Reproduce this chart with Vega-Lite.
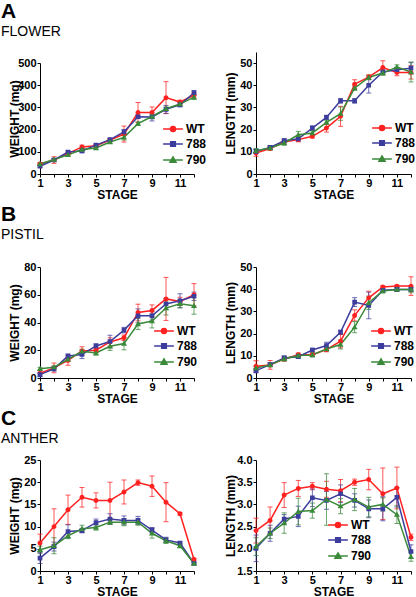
{
"$schema": "https://vega.github.io/schema/vega-lite/v6.json",
"background": "white",
"padding": {"left": 1, "top": 1, "right": 0, "bottom": 0},
"data": {"values": [
{"panel":"AW","series":"WT","stage":1,"value":45,"err":6},{"panel":"AW","series":"WT","stage":2,"value":63,"err":15},{"panel":"AW","series":"WT","stage":3,"value":92,"err":6},{"panel":"AW","series":"WT","stage":4,"value":122,"err":8},{"panel":"AW","series":"WT","stage":5,"value":127,"err":5},{"panel":"AW","series":"WT","stage":6,"value":153,"err":5},{"panel":"AW","series":"WT","stage":7,"value":180,"err":36},{"panel":"AW","series":"WT","stage":8,"value":277,"err":45},{"panel":"AW","series":"WT","stage":9,"value":277,"err":25},{"panel":"AW","series":"WT","stage":10,"value":344,"err":72},{"panel":"AW","series":"WT","stage":11,"value":324,"err":8},{"panel":"AW","series":"WT","stage":12,"value":356,"err":10},
{"panel":"AW","series":"788","stage":1,"value":35,"err":5},{"panel":"AW","series":"788","stage":2,"value":63,"err":6},{"panel":"AW","series":"788","stage":3,"value":99,"err":6},{"panel":"AW","series":"788","stage":4,"value":104,"err":8},{"panel":"AW","series":"788","stage":5,"value":130,"err":5},{"panel":"AW","series":"788","stage":6,"value":155,"err":5},{"panel":"AW","series":"788","stage":7,"value":190,"err":10},{"panel":"AW","series":"788","stage":8,"value":258,"err":8},{"panel":"AW","series":"788","stage":9,"value":257,"err":18},{"panel":"AW","series":"788","stage":10,"value":291,"err":18},{"panel":"AW","series":"788","stage":11,"value":312,"err":10},{"panel":"AW","series":"788","stage":12,"value":366,"err":10},
{"panel":"AW","series":"790","stage":1,"value":45,"err":5},{"panel":"AW","series":"790","stage":2,"value":65,"err":5},{"panel":"AW","series":"790","stage":3,"value":86,"err":5},{"panel":"AW","series":"790","stage":4,"value":110,"err":5},{"panel":"AW","series":"790","stage":5,"value":117,"err":5},{"panel":"AW","series":"790","stage":6,"value":144,"err":5},{"panel":"AW","series":"790","stage":7,"value":165,"err":12},{"panel":"AW","series":"790","stage":8,"value":227,"err":8},{"panel":"AW","series":"790","stage":9,"value":259,"err":8},{"panel":"AW","series":"790","stage":10,"value":294,"err":8},{"panel":"AW","series":"790","stage":11,"value":315,"err":10},{"panel":"AW","series":"790","stage":12,"value":346,"err":10},
{"panel":"AL","series":"WT","stage":1,"value":9.5,"err":1.5},{"panel":"AL","series":"WT","stage":2,"value":11.5,"err":0.8},{"panel":"AL","series":"WT","stage":3,"value":14.4,"err":1},{"panel":"AL","series":"WT","stage":4,"value":15.5,"err":1},{"panel":"AL","series":"WT","stage":5,"value":17,"err":0.8},{"panel":"AL","series":"WT","stage":6,"value":20.7,"err":1.8},{"panel":"AL","series":"WT","stage":7,"value":26,"err":4.5},{"panel":"AL","series":"WT","stage":8,"value":40.5,"err":2},{"panel":"AL","series":"WT","stage":9,"value":43.7,"err":1},{"panel":"AL","series":"WT","stage":10,"value":48,"err":3},{"panel":"AL","series":"WT","stage":11,"value":45.8,"err":1.5},{"panel":"AL","series":"WT","stage":12,"value":45.8,"err":3},
{"panel":"AL","series":"788","stage":1,"value":10.2,"err":1},{"panel":"AL","series":"788","stage":2,"value":12,"err":0.8},{"panel":"AL","series":"788","stage":3,"value":15,"err":1},{"panel":"AL","series":"788","stage":4,"value":15.9,"err":1.2},{"panel":"AL","series":"788","stage":5,"value":20.7,"err":1},{"panel":"AL","series":"788","stage":6,"value":25.5,"err":1},{"panel":"AL","series":"788","stage":7,"value":33,"err":1},{"panel":"AL","series":"788","stage":8,"value":33,"err":1},{"panel":"AL","series":"788","stage":9,"value":40,"err":3.5},{"panel":"AL","series":"788","stage":10,"value":46,"err":1},{"panel":"AL","series":"788","stage":11,"value":47,"err":1},{"panel":"AL","series":"788","stage":12,"value":47.7,"err":2.5},
{"panel":"AL","series":"790","stage":1,"value":10.5,"err":1},{"panel":"AL","series":"790","stage":2,"value":11.7,"err":0.8},{"panel":"AL","series":"790","stage":3,"value":14,"err":1},{"panel":"AL","series":"790","stage":4,"value":17.7,"err":1.5},{"panel":"AL","series":"790","stage":5,"value":18.5,"err":1},{"panel":"AL","series":"790","stage":6,"value":23.3,"err":1},{"panel":"AL","series":"790","stage":7,"value":27.2,"err":3},{"panel":"AL","series":"790","stage":8,"value":38.7,"err":1},{"panel":"AL","series":"790","stage":9,"value":43.5,"err":1},{"panel":"AL","series":"790","stage":10,"value":45.5,"err":1},{"panel":"AL","series":"790","stage":11,"value":48.2,"err":1},{"panel":"AL","series":"790","stage":12,"value":46,"err":4.5},
{"panel":"BW","series":"WT","stage":1,"value":3.4,"err":2},{"panel":"BW","series":"WT","stage":2,"value":7.3,"err":3.5},{"panel":"BW","series":"WT","stage":3,"value":12.7,"err":3.5},{"panel":"BW","series":"WT","stage":4,"value":19.5,"err":3},{"panel":"BW","series":"WT","stage":5,"value":20,"err":1.5},{"panel":"BW","series":"WT","stage":6,"value":26,"err":3},{"panel":"BW","series":"WT","stage":7,"value":29,"err":2},{"panel":"BW","series":"WT","stage":8,"value":47.2,"err":6},{"panel":"BW","series":"WT","stage":9,"value":48.7,"err":4},{"panel":"BW","series":"WT","stage":10,"value":57,"err":15.5},{"panel":"BW","series":"WT","stage":11,"value":55.2,"err":3},{"panel":"BW","series":"WT","stage":12,"value":60,"err":8},
{"panel":"BW","series":"788","stage":1,"value":2.4,"err":1.5},{"panel":"BW","series":"788","stage":2,"value":6.6,"err":1.5},{"panel":"BW","series":"788","stage":3,"value":15.8,"err":1.5},{"panel":"BW","series":"788","stage":4,"value":17,"err":3},{"panel":"BW","series":"788","stage":5,"value":23.1,"err":1.5},{"panel":"BW","series":"788","stage":6,"value":26.3,"err":4.5},{"panel":"BW","series":"788","stage":7,"value":34.5,"err":2},{"panel":"BW","series":"788","stage":8,"value":44.8,"err":5},{"panel":"BW","series":"788","stage":9,"value":44.8,"err":3},{"panel":"BW","series":"788","stage":10,"value":53.3,"err":4},{"panel":"BW","series":"788","stage":11,"value":55.7,"err":5},{"panel":"BW","series":"788","stage":12,"value":58.9,"err":3},
{"panel":"BW","series":"790","stage":1,"value":6.6,"err":1},{"panel":"BW","series":"790","stage":2,"value":7.8,"err":1},{"panel":"BW","series":"790","stage":3,"value":13.4,"err":1.5},{"panel":"BW","series":"790","stage":4,"value":19.2,"err":1.5},{"panel":"BW","series":"790","stage":5,"value":18,"err":1.5},{"panel":"BW","series":"790","stage":6,"value":22.9,"err":3},{"panel":"BW","series":"790","stage":7,"value":24.8,"err":4.5},{"panel":"BW","series":"790","stage":8,"value":38.9,"err":4},{"panel":"BW","series":"790","stage":9,"value":41.1,"err":5},{"panel":"BW","series":"790","stage":10,"value":50.4,"err":5},{"panel":"BW","series":"790","stage":11,"value":53.5,"err":3},{"panel":"BW","series":"790","stage":12,"value":52,"err":6},
{"panel":"BL","series":"WT","stage":1,"value":5.3,"err":2.5},{"panel":"BL","series":"WT","stage":2,"value":5.9,"err":2},{"panel":"BL","series":"WT","stage":3,"value":8.6,"err":1},{"panel":"BL","series":"WT","stage":4,"value":10.5,"err":0.8},{"panel":"BL","series":"WT","stage":5,"value":10.5,"err":0.8},{"panel":"BL","series":"WT","stage":6,"value":12.8,"err":1},{"panel":"BL","series":"WT","stage":7,"value":16.6,"err":3},{"panel":"BL","series":"WT","stage":8,"value":28.2,"err":2.5},{"panel":"BL","series":"WT","stage":9,"value":36.1,"err":3},{"panel":"BL","series":"WT","stage":10,"value":41,"err":0.5},{"panel":"BL","series":"WT","stage":11,"value":41.4,"err":0.5},{"panel":"BL","series":"WT","stage":12,"value":41.4,"err":4.2},
{"panel":"BL","series":"788","stage":1,"value":3.3,"err":1},{"panel":"BL","series":"788","stage":2,"value":6,"err":0.8},{"panel":"BL","series":"788","stage":3,"value":9,"err":1},{"panel":"BL","series":"788","stage":4,"value":9.6,"err":0.8},{"panel":"BL","series":"788","stage":5,"value":12.6,"err":0.8},{"panel":"BL","series":"788","stage":6,"value":14.6,"err":1.5},{"panel":"BL","series":"788","stage":7,"value":20.6,"err":1},{"panel":"BL","series":"788","stage":8,"value":34.2,"err":2},{"panel":"BL","series":"788","stage":9,"value":32.7,"err":6},{"panel":"BL","series":"788","stage":10,"value":39.5,"err":0.8},{"panel":"BL","series":"788","stage":11,"value":39.9,"err":0.8},{"panel":"BL","series":"788","stage":12,"value":39.9,"err":0.8},
{"panel":"BL","series":"790","stage":1,"value":4.5,"err":1},{"panel":"BL","series":"790","stage":2,"value":5.9,"err":1},{"panel":"BL","series":"790","stage":3,"value":8.6,"err":1},{"panel":"BL","series":"790","stage":4,"value":10.1,"err":0.8},{"panel":"BL","series":"790","stage":5,"value":10.4,"err":1},{"panel":"BL","series":"790","stage":6,"value":13.1,"err":1},{"panel":"BL","series":"790","stage":7,"value":15.1,"err":2},{"panel":"BL","series":"790","stage":8,"value":22.9,"err":2.5},{"panel":"BL","series":"790","stage":9,"value":33.9,"err":3},{"panel":"BL","series":"790","stage":10,"value":39.2,"err":0.8},{"panel":"BL","series":"790","stage":11,"value":39.9,"err":0.8},{"panel":"BL","series":"790","stage":12,"value":39.9,"err":1.5},
{"panel":"CW","series":"WT","stage":1,"value":6.3,"err":2},{"panel":"CW","series":"WT","stage":2,"value":10,"err":4},{"panel":"CW","series":"WT","stage":3,"value":13.8,"err":3.3},{"panel":"CW","series":"WT","stage":4,"value":16.6,"err":2.2},{"panel":"CW","series":"WT","stage":5,"value":15.9,"err":1.7},{"panel":"CW","series":"WT","stage":6,"value":15.9,"err":4.1},{"panel":"CW","series":"WT","stage":7,"value":17.8,"err":2.7},{"panel":"CW","series":"WT","stage":8,"value":19.9,"err":0.6},{"panel":"CW","series":"WT","stage":9,"value":19.1,"err":2.3},{"panel":"CW","series":"WT","stage":10,"value":15.5,"err":4.4},{"panel":"CW","series":"WT","stage":11,"value":12.9,"err":0.3},{"panel":"CW","series":"WT","stage":12,"value":2.6,"err":0.3},
{"panel":"CW","series":"788","stage":1,"value":2.9,"err":1.2},{"panel":"CW","series":"788","stage":2,"value":5.5,"err":1},{"panel":"CW","series":"788","stage":3,"value":8.9,"err":1.5},{"panel":"CW","series":"788","stage":4,"value":9.1,"err":0.5},{"panel":"CW","series":"788","stage":5,"value":10.9,"err":0.8},{"panel":"CW","series":"788","stage":6,"value":11.7,"err":1.2},{"panel":"CW","series":"788","stage":7,"value":11.4,"err":1},{"panel":"CW","series":"788","stage":8,"value":11.4,"err":0.9},{"panel":"CW","series":"788","stage":9,"value":9.2,"err":0.6},{"panel":"CW","series":"788","stage":10,"value":7,"err":0.6},{"panel":"CW","series":"788","stage":11,"value":6.3,"err":0.3},{"panel":"CW","series":"788","stage":12,"value":1.7,"err":0.2},
{"panel":"CW","series":"790","stage":1,"value":4.8,"err":0.8},{"panel":"CW","series":"790","stage":2,"value":5.7,"err":1.8},{"panel":"CW","series":"790","stage":3,"value":7.9,"err":0.6},{"panel":"CW","series":"790","stage":4,"value":9.5,"err":0.8},{"panel":"CW","series":"790","stage":5,"value":9.8,"err":0.6},{"panel":"CW","series":"790","stage":6,"value":11,"err":0.5},{"panel":"CW","series":"790","stage":7,"value":11,"err":0.8},{"panel":"CW","series":"790","stage":8,"value":11,"err":0.7},{"panel":"CW","series":"790","stage":9,"value":8.5,"err":1.1},{"panel":"CW","series":"790","stage":10,"value":6.8,"err":0.6},{"panel":"CW","series":"790","stage":11,"value":5.7,"err":0.5},{"panel":"CW","series":"790","stage":12,"value":1.7,"err":0.2},
{"panel":"CL","series":"WT","stage":1,"value":2.41,"err":0.28},{"panel":"CL","series":"WT","stage":2,"value":2.64,"err":0.3},{"panel":"CL","series":"WT","stage":3,"value":3.21,"err":0.28},{"panel":"CL","series":"WT","stage":4,"value":3.36,"err":0.18},{"panel":"CL","series":"WT","stage":5,"value":3.41,"err":0.08},{"panel":"CL","series":"WT","stage":6,"value":3.34,"err":0.18},{"panel":"CL","series":"WT","stage":7,"value":3.31,"err":0.25},{"panel":"CL","series":"WT","stage":8,"value":3.5,"err":0.07},{"panel":"CL","series":"WT","stage":9,"value":3.56,"err":0.23},{"panel":"CL","series":"WT","stage":10,"value":3.24,"err":0.58},{"panel":"CL","series":"WT","stage":11,"value":3.37,"err":0.47},{"panel":"CL","series":"WT","stage":12,"value":2.26,"err":0.07},
{"panel":"CL","series":"788","stage":1,"value":2.01,"err":0.3},{"panel":"CL","series":"788","stage":2,"value":2.35,"err":0.18},{"panel":"CL","series":"788","stage":3,"value":2.67,"err":0.1},{"panel":"CL","series":"788","stage":4,"value":2.73,"err":0.23},{"panel":"CL","series":"788","stage":5,"value":3.15,"err":0.2},{"panel":"CL","series":"788","stage":6,"value":3.09,"err":0.2},{"panel":"CL","series":"788","stage":7,"value":3.24,"err":0.2},{"panel":"CL","series":"788","stage":8,"value":3.09,"err":0.15},{"panel":"CL","series":"788","stage":9,"value":2.9,"err":0.2},{"panel":"CL","series":"788","stage":10,"value":2.9,"err":0.27},{"panel":"CL","series":"788","stage":11,"value":3.16,"err":0.22},{"panel":"CL","series":"788","stage":12,"value":1.94,"err":0.15},
{"panel":"CL","series":"790","stage":1,"value":2.05,"err":0.2},{"panel":"CL","series":"790","stage":2,"value":2.35,"err":0.12},{"panel":"CL","series":"790","stage":3,"value":2.58,"err":0.23},{"panel":"CL","series":"790","stage":4,"value":2.84,"err":0.3},{"panel":"CL","series":"790","stage":5,"value":2.86,"err":0.17},{"panel":"CL","series":"790","stage":6,"value":3.11,"err":0.58},{"panel":"CL","series":"790","stage":7,"value":2.96,"err":0.17},{"panel":"CL","series":"790","stage":8,"value":3.11,"err":0.25},{"panel":"CL","series":"790","stage":9,"value":2.94,"err":0.22},{"panel":"CL","series":"790","stage":10,"value":3,"err":0.15},{"panel":"CL","series":"790","stage":11,"value":2.77,"err":0.2},{"panel":"CL","series":"790","stage":12,"value":1.82,"err":0.1}
]},
"spacing": 4,
"resolve": {"scale": {"color": "independent", "stroke": "independent", "shape": "independent"}},
"vconcat": [
{
"title": {"text": "A", "subtitle": "FLOWER", "offset": 13},
"bounds": "flush",
"spacing": 62,
"resolve": {"scale": {"color": "independent", "stroke": "independent", "shape": "independent"}},
"hconcat": [
{
"width": 154, "height": 122,
"transform": [{"filter": "datum.panel === 'AW'"}],
"encoding": {
"x": {"field": "stage", "type": "quantitative", "scale": {"domain": [1, 12], "nice": false}, "axis": {"title": "STAGE", "values": [1,2,3,4,5,6,7,8,9,10,11,12], "labelExpr": "datum.value % 2 === 1 ? datum.label : ''"}},
"y": {"field": "value", "type": "quantitative", "scale": {"domain": [0, 500], "nice": false, "range": [122, 11]}, "axis": {"title": "WEIGHT (mg)", "values": [0,100,200,300,400,500]}}
},
"layer": [
{"mark": {"type": "errorbar", "ticks": {"size": 5}, "opacity": 0.75}, "encoding": {"yError": {"field": "err"},
"color": {"field": "series", "type": "nominal", "scale": {"domain": ["WT", "788", "790"], "range": ["#ff2020", "#3d3d9e", "#3a8a3a"]}, "legend": {"orient": "none", "legendX": 117, "legendY": 71, "title": null}}}},
{"mark": {"type": "line", "strokeWidth": 1.5}, "encoding": {
"stroke": {"field": "series", "type": "nominal", "scale": {"domain": ["WT", "788", "790"], "range": ["#ff2020", "#3d3d9e", "#3a8a3a"]}, "legend": {"orient": "none", "legendX": 117, "legendY": 71, "title": null}}}},
{"mark": {"type": "point", "filled": true, "opacity": 1, "size": 30}, "encoding": {
"color": {"field": "series", "type": "nominal", "scale": {"domain": ["WT", "788", "790"], "range": ["#ff2020", "#3d3d9e", "#3a8a3a"]}, "legend": {"orient": "none", "legendX": 117, "legendY": 71, "title": null}},
"shape": {"field": "series", "type": "nominal", "scale": {"domain": ["WT", "788", "790"], "range": ["M-3.6,0H3.6M0.9,0A0.9,0.9,0,1,1,-0.9,0A0.9,0.9,0,1,1,0.9,0Z", "M-3.6,0H3.6M-0.85,-0.85H0.85V0.85H-0.85Z", "M-3.6,0H3.6M0,-1.1L1.1,0.8H-1.1Z"]}, "legend": {"orient": "none", "legendX": 117, "legendY": 71, "title": null}}}}
]
},
{
"width": 155, "height": 122,
"transform": [{"filter": "datum.panel === 'AL'"}],
"encoding": {
"x": {"field": "stage", "type": "quantitative", "scale": {"domain": [1, 12], "nice": false}, "axis": {"title": "STAGE", "values": [1,2,3,4,5,6,7,8,9,10,11,12], "labelExpr": "datum.value % 2 === 1 ? datum.label : ''"}},
"y": {"field": "value", "type": "quantitative", "scale": {"domain": [0, 55], "nice": false}, "axis": {"title": "LENGTH (mm)", "values": [0,10,20,30,40,50]}}
},
"layer": [
{"mark": {"type": "errorbar", "ticks": {"size": 5}, "opacity": 0.75}, "encoding": {"yError": {"field": "err"},
"color": {"field": "series", "type": "nominal", "scale": {"domain": ["WT", "788", "790"], "range": ["#ff2020", "#3d3d9e", "#3a8a3a"]}, "legend": {"orient": "none", "legendX": 110, "legendY": 70, "title": null}}}},
{"mark": {"type": "line", "strokeWidth": 1.5}, "encoding": {
"stroke": {"field": "series", "type": "nominal", "scale": {"domain": ["WT", "788", "790"], "range": ["#ff2020", "#3d3d9e", "#3a8a3a"]}, "legend": {"orient": "none", "legendX": 110, "legendY": 70, "title": null}}}},
{"mark": {"type": "point", "filled": true, "opacity": 1, "size": 30}, "encoding": {
"color": {"field": "series", "type": "nominal", "scale": {"domain": ["WT", "788", "790"], "range": ["#ff2020", "#3d3d9e", "#3a8a3a"]}, "legend": {"orient": "none", "legendX": 110, "legendY": 70, "title": null}},
"shape": {"field": "series", "type": "nominal", "scale": {"domain": ["WT", "788", "790"], "range": ["M-3.6,0H3.6M0.9,0A0.9,0.9,0,1,1,-0.9,0A0.9,0.9,0,1,1,0.9,0Z", "M-3.6,0H3.6M-0.85,-0.85H0.85V0.85H-0.85Z", "M-3.6,0H3.6M0,-1.1L1.1,0.8H-1.1Z"]}, "legend": {"orient": "none", "legendX": 110, "legendY": 70, "title": null}}}}
]
}
]
},
{
"title": {"text": "B", "subtitle": "PISTIL", "offset": 19},
"bounds": "flush",
"spacing": 62,
"resolve": {"scale": {"color": "independent", "stroke": "independent", "shape": "independent"}},
"hconcat": [
{
"width": 154, "height": 111,
"transform": [{"filter": "datum.panel === 'BW'"}],
"encoding": {
"x": {"field": "stage", "type": "quantitative", "scale": {"domain": [1, 12], "nice": false}, "axis": {"title": "STAGE", "values": [1,2,3,4,5,6,7,8,9,10,11,12], "labelExpr": "datum.value % 2 === 1 ? datum.label : ''"}},
"y": {"field": "value", "type": "quantitative", "scale": {"domain": [0, 80], "nice": false}, "axis": {"title": "WEIGHT (mg)", "values": [0,20,40,60,80]}}
},
"layer": [
{"mark": {"type": "errorbar", "ticks": {"size": 5}, "opacity": 0.75}, "encoding": {"yError": {"field": "err"},
"color": {"field": "series", "type": "nominal", "scale": {"domain": ["WT", "788", "790"], "range": ["#ff2020", "#3d3d9e", "#3a8a3a"]}, "legend": {"orient": "none", "legendX": 108, "legendY": 58, "title": null}}}},
{"mark": {"type": "line", "strokeWidth": 1.5}, "encoding": {
"stroke": {"field": "series", "type": "nominal", "scale": {"domain": ["WT", "788", "790"], "range": ["#ff2020", "#3d3d9e", "#3a8a3a"]}, "legend": {"orient": "none", "legendX": 108, "legendY": 58, "title": null}}}},
{"mark": {"type": "point", "filled": true, "opacity": 1, "size": 30}, "encoding": {
"color": {"field": "series", "type": "nominal", "scale": {"domain": ["WT", "788", "790"], "range": ["#ff2020", "#3d3d9e", "#3a8a3a"]}, "legend": {"orient": "none", "legendX": 108, "legendY": 58, "title": null}},
"shape": {"field": "series", "type": "nominal", "scale": {"domain": ["WT", "788", "790"], "range": ["M-3.6,0H3.6M0.9,0A0.9,0.9,0,1,1,-0.9,0A0.9,0.9,0,1,1,0.9,0Z", "M-3.6,0H3.6M-0.85,-0.85H0.85V0.85H-0.85Z", "M-3.6,0H3.6M0,-1.1L1.1,0.8H-1.1Z"]}, "legend": {"orient": "none", "legendX": 108, "legendY": 58, "title": null}}}}
]
},
{
"width": 155, "height": 111,
"transform": [{"filter": "datum.panel === 'BL'"}],
"encoding": {
"x": {"field": "stage", "type": "quantitative", "scale": {"domain": [1, 12], "nice": false}, "axis": {"title": "STAGE", "values": [1,2,3,4,5,6,7,8,9,10,11,12], "labelExpr": "datum.value % 2 === 1 ? datum.label : ''"}},
"y": {"field": "value", "type": "quantitative", "scale": {"domain": [0, 50], "nice": false}, "axis": {"title": "LENGTH (mm)", "values": [0,10,20,30,40,50]}}
},
"layer": [
{"mark": {"type": "errorbar", "ticks": {"size": 5}, "opacity": 0.75}, "encoding": {"yError": {"field": "err"},
"color": {"field": "series", "type": "nominal", "scale": {"domain": ["WT", "788", "790"], "range": ["#ff2020", "#3d3d9e", "#3a8a3a"]}, "legend": {"orient": "none", "legendX": 109, "legendY": 58, "title": null}}}},
{"mark": {"type": "line", "strokeWidth": 1.5}, "encoding": {
"stroke": {"field": "series", "type": "nominal", "scale": {"domain": ["WT", "788", "790"], "range": ["#ff2020", "#3d3d9e", "#3a8a3a"]}, "legend": {"orient": "none", "legendX": 109, "legendY": 58, "title": null}}}},
{"mark": {"type": "point", "filled": true, "opacity": 1, "size": 30}, "encoding": {
"color": {"field": "series", "type": "nominal", "scale": {"domain": ["WT", "788", "790"], "range": ["#ff2020", "#3d3d9e", "#3a8a3a"]}, "legend": {"orient": "none", "legendX": 109, "legendY": 58, "title": null}},
"shape": {"field": "series", "type": "nominal", "scale": {"domain": ["WT", "788", "790"], "range": ["M-3.6,0H3.6M0.9,0A0.9,0.9,0,1,1,-0.9,0A0.9,0.9,0,1,1,0.9,0Z", "M-3.6,0H3.6M-0.85,-0.85H0.85V0.85H-0.85Z", "M-3.6,0H3.6M0,-1.1L1.1,0.8H-1.1Z"]}, "legend": {"orient": "none", "legendX": 109, "legendY": 58, "title": null}}}}
]
}
]
},
{
"title": {"text": "C", "subtitle": "ANTHER", "offset": 8},
"bounds": "flush",
"spacing": 62,
"resolve": {"scale": {"color": "independent", "stroke": "independent", "shape": "independent"}},
"hconcat": [
{
"width": 154, "height": 111,
"transform": [{"filter": "datum.panel === 'CW'"}],
"encoding": {
"x": {"field": "stage", "type": "quantitative", "scale": {"domain": [1, 12], "nice": false}, "axis": {"title": "STAGE", "values": [1,2,3,4,5,6,7,8,9,10,11,12], "labelExpr": "datum.value % 2 === 1 ? datum.label : ''"}},
"y": {"field": "value", "type": "quantitative", "scale": {"domain": [0, 25], "nice": false}, "axis": {"title": "WEIGHT (mg)", "values": [0,5,10,15,20,25]}}
},
"layer": [
{"mark": {"type": "errorbar", "ticks": {"size": 5}, "opacity": 0.75}, "encoding": {"yError": {"field": "err"},
"color": {"field": "series", "type": "nominal", "scale": {"domain": ["WT", "788", "790"], "range": ["#ff2020", "#3d3d9e", "#3a8a3a"]}, "legend": null}}},
{"mark": {"type": "line", "strokeWidth": 1.5}, "encoding": {
"stroke": {"field": "series", "type": "nominal", "scale": {"domain": ["WT", "788", "790"], "range": ["#ff2020", "#3d3d9e", "#3a8a3a"]}, "legend": null}}},
{"mark": {"type": "point", "filled": true, "opacity": 1, "size": 30}, "encoding": {
"color": {"field": "series", "type": "nominal", "scale": {"domain": ["WT", "788", "790"], "range": ["#ff2020", "#3d3d9e", "#3a8a3a"]}, "legend": null},
"shape": {"field": "series", "type": "nominal", "scale": {"domain": ["WT", "788", "790"], "range": ["M-3.6,0H3.6M0.9,0A0.9,0.9,0,1,1,-0.9,0A0.9,0.9,0,1,1,0.9,0Z", "M-3.6,0H3.6M-0.85,-0.85H0.85V0.85H-0.85Z", "M-3.6,0H3.6M0,-1.1L1.1,0.8H-1.1Z"]}, "legend": null}}}
]
},
{
"width": 155, "height": 111,
"transform": [{"filter": "datum.panel === 'CL'"}],
"encoding": {
"x": {"field": "stage", "type": "quantitative", "scale": {"domain": [1, 12], "nice": false}, "axis": {"title": "STAGE", "values": [1,2,3,4,5,6,7,8,9,10,11,12], "labelExpr": "datum.value % 2 === 1 ? datum.label : ''"}},
"y": {"field": "value", "type": "quantitative", "scale": {"domain": [1.5, 4.0], "nice": false, "zero": false}, "axis": {"title": "LENGTH (mm)", "values": [1.5,2.0,2.5,3.0,3.5,4.0], "format": ".1f"}}
},
"layer": [
{"mark": {"type": "errorbar", "ticks": {"size": 5}, "opacity": 0.75}, "encoding": {"yError": {"field": "err"},
"color": {"field": "series", "type": "nominal", "scale": {"domain": ["WT", "788", "790"], "range": ["#ff2020", "#3d3d9e", "#3a8a3a"]}, "legend": {"orient": "none", "legendX": 66, "legendY": 59, "title": null}}}},
{"mark": {"type": "line", "strokeWidth": 1.5}, "encoding": {
"stroke": {"field": "series", "type": "nominal", "scale": {"domain": ["WT", "788", "790"], "range": ["#ff2020", "#3d3d9e", "#3a8a3a"]}, "legend": {"orient": "none", "legendX": 66, "legendY": 59, "title": null}}}},
{"mark": {"type": "point", "filled": true, "opacity": 1, "size": 30}, "encoding": {
"color": {"field": "series", "type": "nominal", "scale": {"domain": ["WT", "788", "790"], "range": ["#ff2020", "#3d3d9e", "#3a8a3a"]}, "legend": {"orient": "none", "legendX": 66, "legendY": 59, "title": null}},
"shape": {"field": "series", "type": "nominal", "scale": {"domain": ["WT", "788", "790"], "range": ["M-3.6,0H3.6M0.9,0A0.9,0.9,0,1,1,-0.9,0A0.9,0.9,0,1,1,0.9,0Z", "M-3.6,0H3.6M-0.85,-0.85H0.85V0.85H-0.85Z", "M-3.6,0H3.6M0,-1.1L1.1,0.8H-1.1Z"]}, "legend": {"orient": "none", "legendX": 66, "legendY": 59, "title": null}}}}
]
}
]
}
],
"config": {
"font": "Liberation Sans",
"view": {"stroke": null},
"axis": {"grid": false, "domainColor": "black", "tickColor": "black", "labelColor": "black", "titleColor": "black", "labelFont": "Liberation Sans", "titleFont": "Liberation Sans", "labelFontSize": 11, "labelFontWeight": "bold", "titleFontSize": 12, "titleFontWeight": "bold", "tickSize": 3, "labelFlush": false, "labelOverlap": false},
"axisX": {"labelPadding": 0, "titlePadding": 1},
"axisY": {"labelPadding": 1, "titleX": -19},
"legend": {"labelFontSize": 12, "labelFontWeight": "bold", "labelColor": "black", "labelFont": "Liberation Sans", "rowPadding": 3, "padding": 0, "symbolSize": 30, "symbolOffset": 10, "labelOffset": 7, "symbolStrokeWidth": 1.5, "symbolOpacity": 1},
"title": {"anchor": "start", "font": "Liberation Sans", "fontSize": 21, "fontWeight": "bold", "color": "black", "subtitleFont": "Liberation Sans", "subtitleFontSize": 14, "subtitleFontWeight": "normal", "subtitleColor": "black", "subtitlePadding": 3, "dx": -7}
}
}
